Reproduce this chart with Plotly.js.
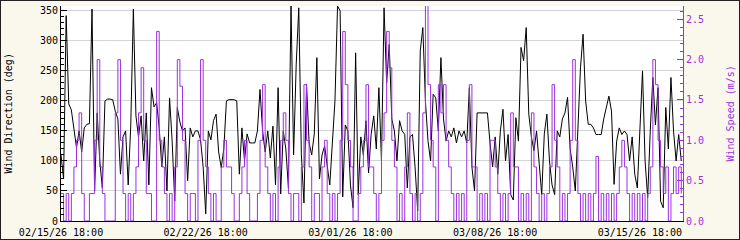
<!DOCTYPE html>
<html>
<head>
<meta charset="utf-8">
<script src="https://cdn.plot.ly/plotly-3.0.1.min.js"></script>
<style>
html,body{margin:0;padding:0;background:#faf8ec;}
#wrap{position:relative;width:740px;height:240px;overflow:hidden;}
#chart{position:absolute;left:0;top:0;width:740px;height:240px;}
#frame{position:absolute;left:0;top:0;width:740px;height:240px;box-sizing:border-box;border:1px solid #222;pointer-events:none;}
</style>
</head>
<body>
<div id="wrap"><div id="chart"></div><div id="frame"></div></div>
<script>
// Series start and sampling step (3 hours)
const startTime = "2026-02-15 18:00";
const stepHours = 3;

// Wind direction (deg)
const windDir = [
110,70,342,195,185,155,122,150,115,155,161,162,353,50,180,100,55,200,203,203,
202,183,170,78,140,150,60,160,353,175,140,175,100,180,60,222,190,197,155,90,
140,50,205,133,33,189,165,150,155,67,155,140,150,150,135,90,12,150,135,167,
178,115,89,120,200,202,202,202,200,78,155,100,145,130,130,130,150,219,150,115,
150,105,158,60,222,45,150,120,55,358,110,260,355,110,30,228,130,110,145,272,
70,110,125,90,60,130,200,358,350,40,160,150,60,22,280,44,140,110,167,80,
144,175,120,222,100,355,230,294,170,150,100,167,150,144,55,140,144,90,17,283,
322,200,133,100,211,205,150,272,170,133,150,140,155,130,150,140,150,130,222,90,
50,180,180,180,180,180,130,90,140,78,150,186,100,144,44,35,172,133,289,267,
322,178,140,117,150,100,44,145,178,100,60,44,150,140,170,180,206,120,90,50,
150,255,311,200,161,161,155,144,144,144,170,190,208,183,61,133,155,144,150,144,
100,140,78,55,160,250,100,39,150,239,160,222,33,22,189,120,239,150,100,144,
100
];

// Wind speed (m/s)
const windSpeed = [
0.34,0,0.34,0,0.34,0.67,1.0,1.34,0.34,0,0,0.34,0.34,1.0,2.0,0.67,0.34,0,0,0,
0,1.34,2.0,1.0,0.34,0,0.34,0,0.34,0.67,1.34,1.9,1.0,0.34,0.34,0,0,2.35,1.0,0.67,
0.34,0,0.34,0,0.67,2.0,1.67,1.0,0.34,0,0.34,0.34,0,1.0,2.0,1.0,0.67,0.34,0,0.34,
0,0,0.67,1.0,0.67,0.67,0.34,0,0,0.34,0.67,1.0,0.34,0,0,0,0.34,1.0,1.69,0.67,
0.34,0,0.34,0,0.67,1.0,1.34,1.0,0.34,0,0.34,0.34,0,0.67,1.69,1.0,0.67,0,0.34,0.34,
0,0.67,1.0,0.34,0,0.34,0,0.34,1.0,2.35,1.69,1.0,0.67,0,0,0.34,0.67,1.0,1.69,0.67,
0.67,0.34,0,0.34,1.0,1.34,2.35,1.9,1.0,0.67,0,0.34,0,0.67,1.34,0.34,0,0.34,0,0.34,
1.34,2.68,1.69,1.0,0.67,0,1.69,1.34,1.69,1.0,0.67,0.34,0,0.34,0,0.34,0,1.0,1.69,0.67,
0.67,0,0.34,0,0.34,0,1.0,1.0,0.67,0.34,0,0.34,0,0.34,1.34,0.67,0.67,0,0.34,0,
0.34,0,1.34,0.67,0.34,0,0.34,0,0.34,0.67,1.69,1.0,0.67,0,0.34,0,0.34,1.0,2.0,1.0,
0.34,0,0.34,0,0.34,0,0.34,0.8,0,0.34,0,0.34,0,0.34,0,0.34,0.67,1.0,0.67,0.34,
0,0.34,0,0.34,0,0.34,0,0.34,0.67,2.0,1.69,1.0,0.67,0.34,0.67,0,0.34,0.67,0.34,0.67,
0.34
];

// Tick labels on the time axis
const xTickVals = ["2026-02-15 18:00","2026-02-22 18:00","2026-03-01 18:00","2026-03-08 18:00","2026-03-15 18:00"];
const xTickText = ["02/15/26 18:00","02/22/26 18:00","03/01/26 18:00","03/08/26 18:00","03/15/26 18:00"];

function pad(n){return (n<10?"0":"")+n;}
const t0 = Date.UTC(2026,1,15,18,0,0);
const times = windDir.map(function(_, i){
  const d = new Date(t0 + i*stepHours*3600000);
  return d.getUTCFullYear()+"-"+pad(d.getUTCMonth()+1)+"-"+pad(d.getUTCDate())+" "+pad(d.getUTCHours())+":00";
});

const PURPLE = "#9b30e0";
const FONT = "DejaVu Sans Mono";

const traces = [
  {x: times, y: windSpeed, type: "scatter", mode: "lines", yaxis: "y2",
   line: {color: PURPLE, width: 1, shape: "hv"}, hoverinfo: "skip"},
  {x: times, y: windDir, type: "scatter", mode: "lines",
   line: {color: "#000000", width: 1}, hoverinfo: "skip"}
];

const layout = {
  width: 740, height: 240,
  margin: {l: 61, r: 57, t: 6, b: 19, pad: 0},
  paper_bgcolor: "#faf8ec",
  plot_bgcolor: "#ffffff",
  showlegend: false,
  font: {family: FONT, size: 10, color: "#000"},
  xaxis: {
    type: "date",
    range: ["2026-02-15 18:00", "2026-03-17 20:00"],
    tickmode: "array", tickvals: xTickVals, ticktext: xTickText,
    showgrid: false, zeroline: false,
    showline: true, linecolor: "#000", linewidth: 1,
    ticks: "", ticklabelstandoff: 2, tickfont: {family: FONT, size: 10, color: "#000"}
  },
  yaxis: {
    range: [0, 358], tickmode: "linear", tick0: 0, dtick: 50,
    showgrid: true, gridcolor: "#d4d4d4", gridwidth: 1,
    zeroline: false, showline: true, linecolor: "#000", linewidth: 1,
    ticks: "inside", ticklen: 6, tickcolor: "#000",
    minor: {dtick: 10, ticks: "inside", ticklen: 3, tickcolor: "#000", showgrid: false},
    tickfont: {family: FONT, size: 10, color: "#000"}
  },
  yaxis2: {
    overlaying: "y", side: "right",
    range: [0, 2.665], tickmode: "linear", tick0: 0, dtick: 0.5, tickformat: ".1f",
    showgrid: false, zeroline: false, showline: true, linecolor: PURPLE, linewidth: 1,
    ticks: "inside", ticklen: 6, tickcolor: PURPLE,
    minor: {dtick: 0.1, ticks: "inside", ticklen: 3, tickcolor: PURPLE, showgrid: false},
    tickfont: {family: FONT, size: 10, color: PURPLE}
  },
  annotations: [
    {text: "Wind Direction (deg)", xref: "paper", yref: "paper", x: 0, y: 0.5,
     xanchor: "center", yanchor: "middle", xshift: -53, textangle: -90, showarrow: false,
     font: {family: FONT, size: 10, color: "#000"}},
    {text: "Wind Speed (m/s)", xref: "paper", yref: "paper", x: 1, y: 0.5,
     xanchor: "center", yanchor: "middle", xshift: 47, textangle: -90, showarrow: false,
     font: {family: FONT, size: 10, color: PURPLE}}
  ]
};

Plotly.newPlot("chart", traces, layout, {staticPlot: true, displayModeBar: false});
</script>
</body>
</html>
